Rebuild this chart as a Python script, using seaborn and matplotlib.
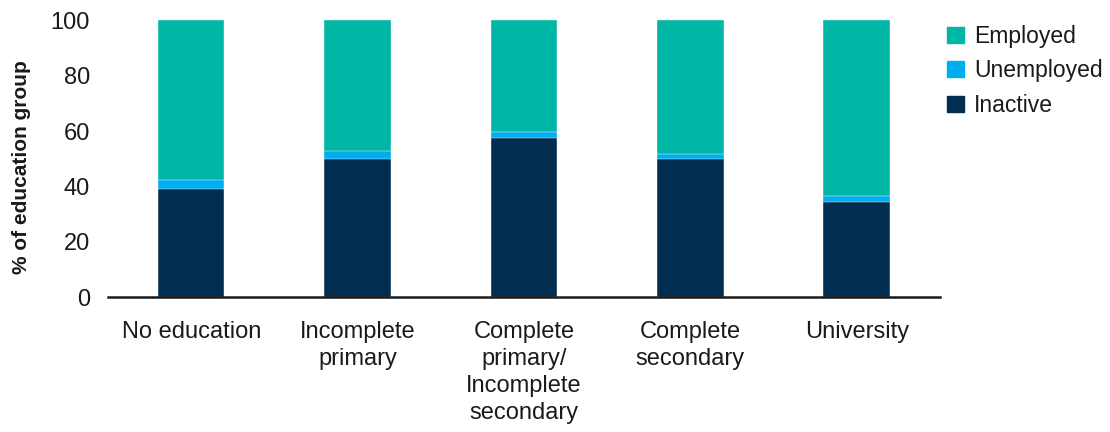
import pandas as pd
import seaborn as sns
from matplotlib import pyplot as plt
from matplotlib.patches import Patch

# data (% of education group)
groups = ["No education", "Incomplete primary", "Complete primary/Incomplete secondary",
          "Complete secondary", "University"]
tick_labels = ["No education", "Incomplete\nprimary", "Complete\nprimary/\nIncomplete\nsecondary",
               "Complete\nsecondary", "University"]
inactive = [39.2, 49.8, 57.6, 49.8, 34.5]
unemployed = [3.0, 3.0, 2.0, 2.0, 2.1]
employed = [57.8, 47.2, 40.4, 48.2, 63.4]

colors = {"Employed": "#00B6A7", "Unemployed": "#00AEEF", "Inactive": "#002D50"}

df = pd.DataFrame({"group": groups, "Inactive": inactive,
                   "Unemployed": unemployed, "Employed": employed})
df["lvl_inactive"] = df["Inactive"]
df["lvl_unemployed"] = df["Inactive"] + df["Unemployed"]
df["lvl_employed"] = df["lvl_unemployed"] + df["Employed"]

sns.set_style("white")
plt.rcParams["font.family"] = ["Liberation Sans", "DejaVu Sans"]

fig = plt.figure(figsize=(11.1, 4.32), dpi=100)
ax = fig.add_axes([0.0973, 0.312, 0.7495, 0.641])

# stacked bars drawn as overlapping cumulative levels
for col, name in [("lvl_employed", "Employed"), ("lvl_unemployed", "Unemployed"),
                  ("lvl_inactive", "Inactive")]:
    sns.barplot(data=df, x="group", y=col, color=colors[name], width=0.4,
                saturation=1, ax=ax, edgecolor="white", linewidth=0.3)

ax.set_ylim(0, 100)
ax.set_xlim(-0.5, 4.5)
ax.set_yticks([0, 20, 40, 60, 80, 100])
ax.set_xticks(range(len(groups)))
ax.set_xticklabels(tick_labels, fontsize=17, color="#1a1a1a", linespacing=1.3)
ax.tick_params(axis="y", labelsize=17, labelcolor="#1a1a1a", length=0, pad=13)
ax.tick_params(axis="x", length=0, pad=17)
ax.set_xlabel("")
ax.set_ylabel("% of education group", fontsize=15, fontweight="bold", color="#1a1a1a")
ax.yaxis.set_label_coords(-0.093, 0.47)

for side in ["top", "right", "left"]:
    ax.spines[side].set_visible(False)
ax.spines["bottom"].set_color("#1a1a1a")
ax.spines["bottom"].set_linewidth(1.8)

handles = [Patch(color=colors[k]) for k in ["Employed", "Unemployed", "Inactive"]]
fig.legend(handles, ["Employed", "Unemployed", "Inactive"], loc="upper left",
           bbox_to_anchor=(0.835, 0.99), frameon=False, fontsize=16.5,
           labelcolor="#1a1a1a", handlelength=0.7, handleheight=0.7,
           handletextpad=0.45, labelspacing=0.5)

plt.savefig("out.png", dpi=100)
